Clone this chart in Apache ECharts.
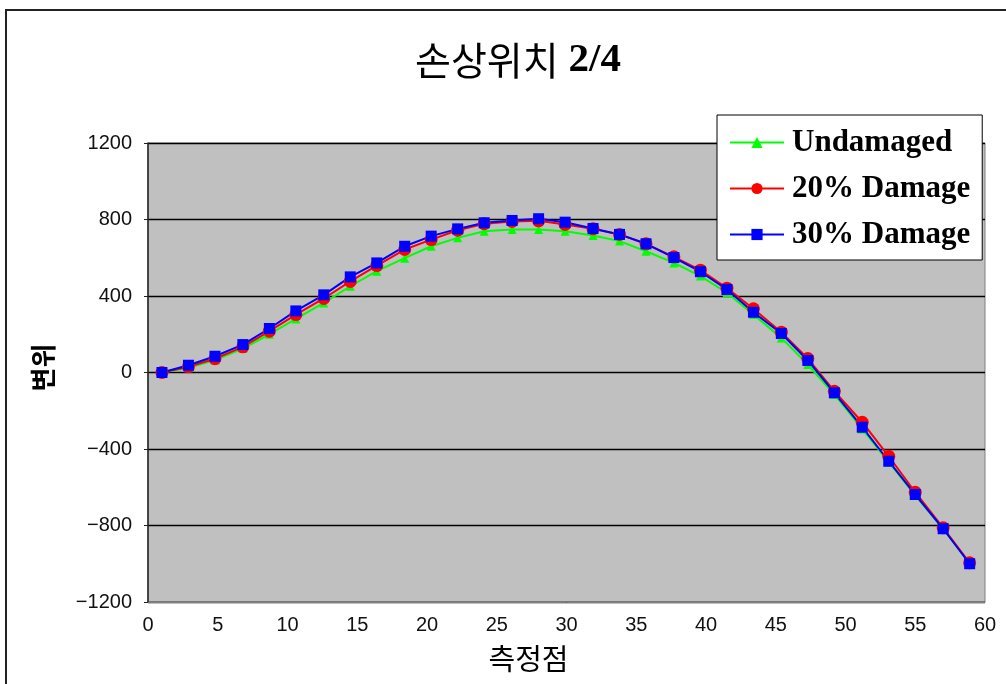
<!DOCTYPE html>
<html>
<head>
<meta charset="utf-8">
<script src="https://cdn.jsdelivr.net/npm/echarts@6/dist/echarts.min.js"></script>
<style>
  html, body { margin: 0; padding: 0; background: #fff; }
  #chart { width: 1006px; height: 684px; }
</style>
</head>
<body>
<div id="chart"></div>
<script>
// Measurement point positions along the member
const points = [1.0, 2.9, 4.8, 6.8, 8.7, 10.6, 12.6, 14.5, 16.4, 18.4, 20.3, 22.2, 24.1, 26.1, 28.0, 29.9,
                31.9, 33.8, 35.7, 37.7, 39.6, 41.5, 43.4, 45.4, 47.3, 49.2, 51.2, 53.1, 55.0, 57.0, 58.9];

// Displacement at each measurement point
const undamaged = [0, 25, 65, 125, 200, 280, 364, 451, 530, 598, 660, 704, 739, 748, 748, 739,
                   716, 687, 634, 573, 504, 417, 303, 181, 42, -115, -295, -469, -643, -817, -1000];
const damage20 = [0, 30, 72, 134, 216, 303, 387, 476, 559, 643, 695, 744, 778, 790, 793, 774,
                  751, 722, 673, 605, 535, 441, 333, 211, 73, -98, -260, -438, -626, -812, -995];
const damage30 = [0, 38, 85, 146, 230, 322, 406, 500, 573, 660, 713, 751, 783, 795, 804, 786,
                  753, 722, 673, 601, 527, 434, 315, 204, 63, -106, -286, -464, -638, -817, -1000];

const seriesNames = ['Undamaged', '20% Damage', '30% Damage'];
const titleMain = '손상위치';
const titleSub = '2/4';
const xName = '측정점';
const yName = '변위';

const pair = (ys) => ys.map((y, i) => [points[i], y]);

const chart = echarts.init(document.getElementById('chart'));
chart.setOption({
  animation: false,
  backgroundColor: '#ffffff',
  graphic: [{
    type: 'rect',
    shape: { x: 6, y: 10, width: 1200, height: 900 },
    style: { fill: 'none', stroke: '#222', lineWidth: 2 },
    silent: true
  }],
  title: {
    text: '{k|' + titleMain + '}  {n|' + titleSub + '}',
    left: 410,
    top: 35,
    textStyle: {
      rich: {
        k: { fontFamily: 'Noto Sans CJK KR', fontSize: 39, fontWeight: 'normal', color: '#000' },
        n: { fontFamily: 'Liberation Serif', fontSize: 41, fontWeight: 'bold', color: '#000' }
      }
    }
  },
  grid: {
    left: 148, top: 143, right: 21, bottom: 82,
    show: true,
    backgroundColor: '#c0c0c0',
    borderColor: '#808080',
    borderWidth: 1
  },
  legend: {
    data: seriesNames,
    orient: 'vertical',
    left: 717,
    top: 115,
    itemWidth: 54,
    itemHeight: 14,
    itemGap: 15,
    padding: [12, 12, 10, 12],
    backgroundColor: '#ffffff',
    borderColor: '#000',
    borderWidth: 1,
    textStyle: { fontFamily: 'Liberation Serif', fontWeight: 'bold', fontSize: 31, color: '#000', padding: [0, 0, 0, 3] }
  },
  xAxis: {
    type: 'value',
    min: 0, max: 60, interval: 5,
    name: xName,
    nameLocation: 'middle',
    nameGap: 42,
    nameTextStyle: { fontFamily: 'Noto Sans CJK KR', fontSize: 29, color: '#000', padding: [0, 76, 0, 0] },
    axisLine: { show: true, onZero: false, lineStyle: { color: '#808080', width: 1 } },
    axisTick: { show: false },
    axisLabel: { fontFamily: 'Liberation Sans', fontSize: 20, color: '#111', margin: 13 },
    splitLine: { show: false }
  },
  yAxis: {
    type: 'value',
    min: -1200, max: 1200, interval: 400,
    name: yName,
    nameLocation: 'middle',
    nameRotate: 90,
    nameGap: 92,
    nameTextStyle: { fontFamily: 'Noto Sans CJK KR', fontSize: 26, fontWeight: 'bold', color: '#000', padding: [0, 0, 0, 10] },
    axisLine: { show: true, lineStyle: { color: '#222', width: 1.5 } },
    axisTick: { show: true, length: 4, lineStyle: { color: '#222' } },
    axisLabel: {
      fontFamily: 'Liberation Sans', fontSize: 20, color: '#111', margin: 16,
      formatter: (v) => String(v).replace('-', '\u2212')
    },
    splitLine: { show: true, lineStyle: { color: '#000', width: 1.3 } }
  },
  series: [
    {
      name: seriesNames[0], type: 'line', data: pair(undamaged),
      symbol: 'triangle', symbolSize: 9,
      lineStyle: { color: '#00ff00', width: 2 },
      itemStyle: { color: '#00ff00' }
    },
    {
      name: seriesNames[1], type: 'line', data: pair(damage20),
      symbol: 'circle', symbolSize: 13,
      lineStyle: { color: '#ff0000', width: 2 },
      itemStyle: { color: '#ff0000' }
    },
    {
      name: seriesNames[2], type: 'line', data: pair(damage30),
      symbol: 'rect', symbolSize: 11,
      lineStyle: { color: '#0000ff', width: 2 },
      itemStyle: { color: '#0000ff' }
    }
  ]
});
</script>
</body>
</html>
